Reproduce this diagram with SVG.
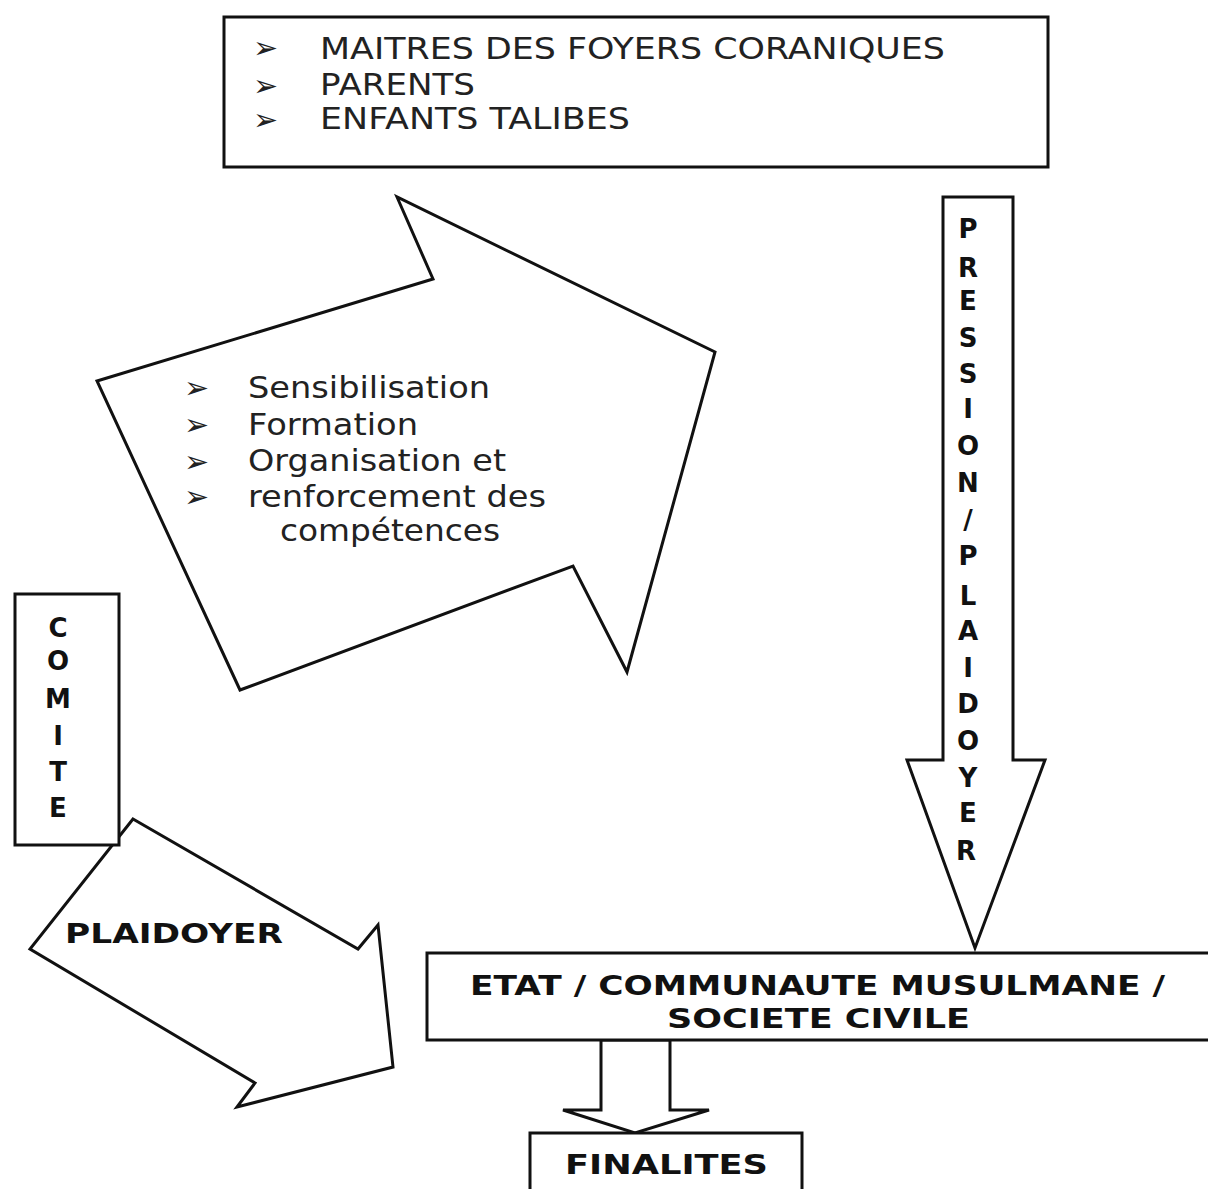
<svg xmlns="http://www.w3.org/2000/svg" width="1208" height="1189" viewBox="0 0 1208 1189">
<style>
.shape{fill:#fff;stroke:#111;stroke-width:3;stroke-linejoin:miter}
.reg{font-family:"DejaVu Sans","Liberation Sans",sans-serif;fill:#222}
.bold{font-family:"DejaVu Sans","Liberation Sans",sans-serif;font-weight:bold;fill:#111}
.bul{font-family:"DejaVu Sans",sans-serif;fill:#222;font-size:30px;font-weight:bold}
.vert{font-family:"DejaVu Sans","Liberation Sans",sans-serif;font-weight:bold;fill:#111;font-size:26px;text-anchor:middle}
</style>
<rect width="1208" height="1189" fill="#fff"/>

<g id="connectors">
  <polygon class="shape" points="601,1040 601,1110 563,1110 635,1133 709,1110 670,1110 670,1040"/>
</g>

<g id="node-acteurs">
  <rect class="shape" x="224" y="17" width="824" height="150"/>
  <text class="bul" x="253" y="58">➢</text>
  <text class="bul" x="253" y="96">➢</text>
  <text class="bul" x="253" y="130">➢</text>
  <text class="reg" x="320" y="59" font-size="30" textLength="625" lengthAdjust="spacingAndGlyphs">MAITRES DES FOYERS CORANIQUES</text>
  <text class="reg" x="320" y="95" font-size="30" textLength="155" lengthAdjust="spacingAndGlyphs">PARENTS</text>
  <text class="reg" x="320" y="129" font-size="30" textLength="310" lengthAdjust="spacingAndGlyphs">ENFANTS TALIBES</text>
</g>

<g id="node-actions">
  <polygon class="shape" points="97,381 433,279 397,197 715,352 627,672 573,566 240,690"/>
  <text class="bul" x="184" y="398">➢</text>
  <text class="bul" x="184" y="435">➢</text>
  <text class="bul" x="184" y="472">➢</text>
  <text class="bul" x="184" y="507">➢</text>
  <text class="reg" x="248" y="398" font-size="30" textLength="242" lengthAdjust="spacingAndGlyphs">Sensibilisation</text>
  <text class="reg" x="248" y="435" font-size="30" textLength="170" lengthAdjust="spacingAndGlyphs">Formation</text>
  <text class="reg" x="248" y="471" font-size="30" textLength="258" lengthAdjust="spacingAndGlyphs">Organisation et</text>
  <text class="reg" x="248" y="507" font-size="30" textLength="298" lengthAdjust="spacingAndGlyphs">renforcement des</text>
  <text class="reg" x="280" y="541" font-size="30" textLength="220" lengthAdjust="spacingAndGlyphs">compétences</text>
</g>

<g id="node-pression">
  <polygon class="shape" points="943,197 1013,197 1013,760 1045,760 975,948 907,760 943,760"/>
  <text class="vert" x="968" y="238">P</text>
  <text class="vert" x="968" y="277">R</text>
  <text class="vert" x="968" y="310">E</text>
  <text class="vert" x="968" y="347">S</text>
  <text class="vert" x="968" y="383">S</text>
  <text class="vert" x="968" y="418">I</text>
  <text class="vert" x="968" y="455">O</text>
  <text class="vert" x="968" y="492">N</text>
  <text class="vert" x="968" y="529">/</text>
  <text class="vert" x="968" y="565">P</text>
  <text class="vert" x="968" y="605">L</text>
  <text class="vert" x="968" y="640">A</text>
  <text class="vert" x="968" y="677">I</text>
  <text class="vert" x="968" y="713">D</text>
  <text class="vert" x="968" y="750">O</text>
  <text class="vert" x="968" y="787">Y</text>
  <text class="vert" x="968" y="822">E</text>
  <text class="vert" x="966" y="860">R</text>
</g>

<g id="node-plaidoyer">
  <polygon class="shape" points="133,819 358,949 378,925 393,1067 237,1107 255,1083 30,949"/>
  <text class="bold" x="65" y="943" font-size="27" textLength="218" lengthAdjust="spacingAndGlyphs">PLAIDOYER</text>
</g>

<g id="node-comite">
  <rect class="shape" x="15" y="594" width="104" height="251"/>
  <text class="vert" x="58" y="637">C</text>
  <text class="vert" x="58" y="670">O</text>
  <text class="vert" x="58" y="708">M</text>
  <text class="vert" x="58" y="745">I</text>
  <text class="vert" x="58" y="781">T</text>
  <text class="vert" x="58" y="817">E</text>
</g>

<g id="node-etat">
  <rect class="shape" x="427" y="953" width="800" height="87"/>
  <text class="bold" x="470" y="995" font-size="27" textLength="695" lengthAdjust="spacingAndGlyphs">ETAT / COMMUNAUTE MUSULMANE /</text>
  <text class="bold" x="667" y="1028" font-size="27" textLength="303" lengthAdjust="spacingAndGlyphs">SOCIETE CIVILE</text>
</g>

<g id="node-finalites">
  <rect class="shape" x="530" y="1133" width="272" height="80"/>
  <text class="bold" x="565" y="1174" font-size="27" textLength="203" lengthAdjust="spacingAndGlyphs">FINALITES</text>
</g>
</svg>
